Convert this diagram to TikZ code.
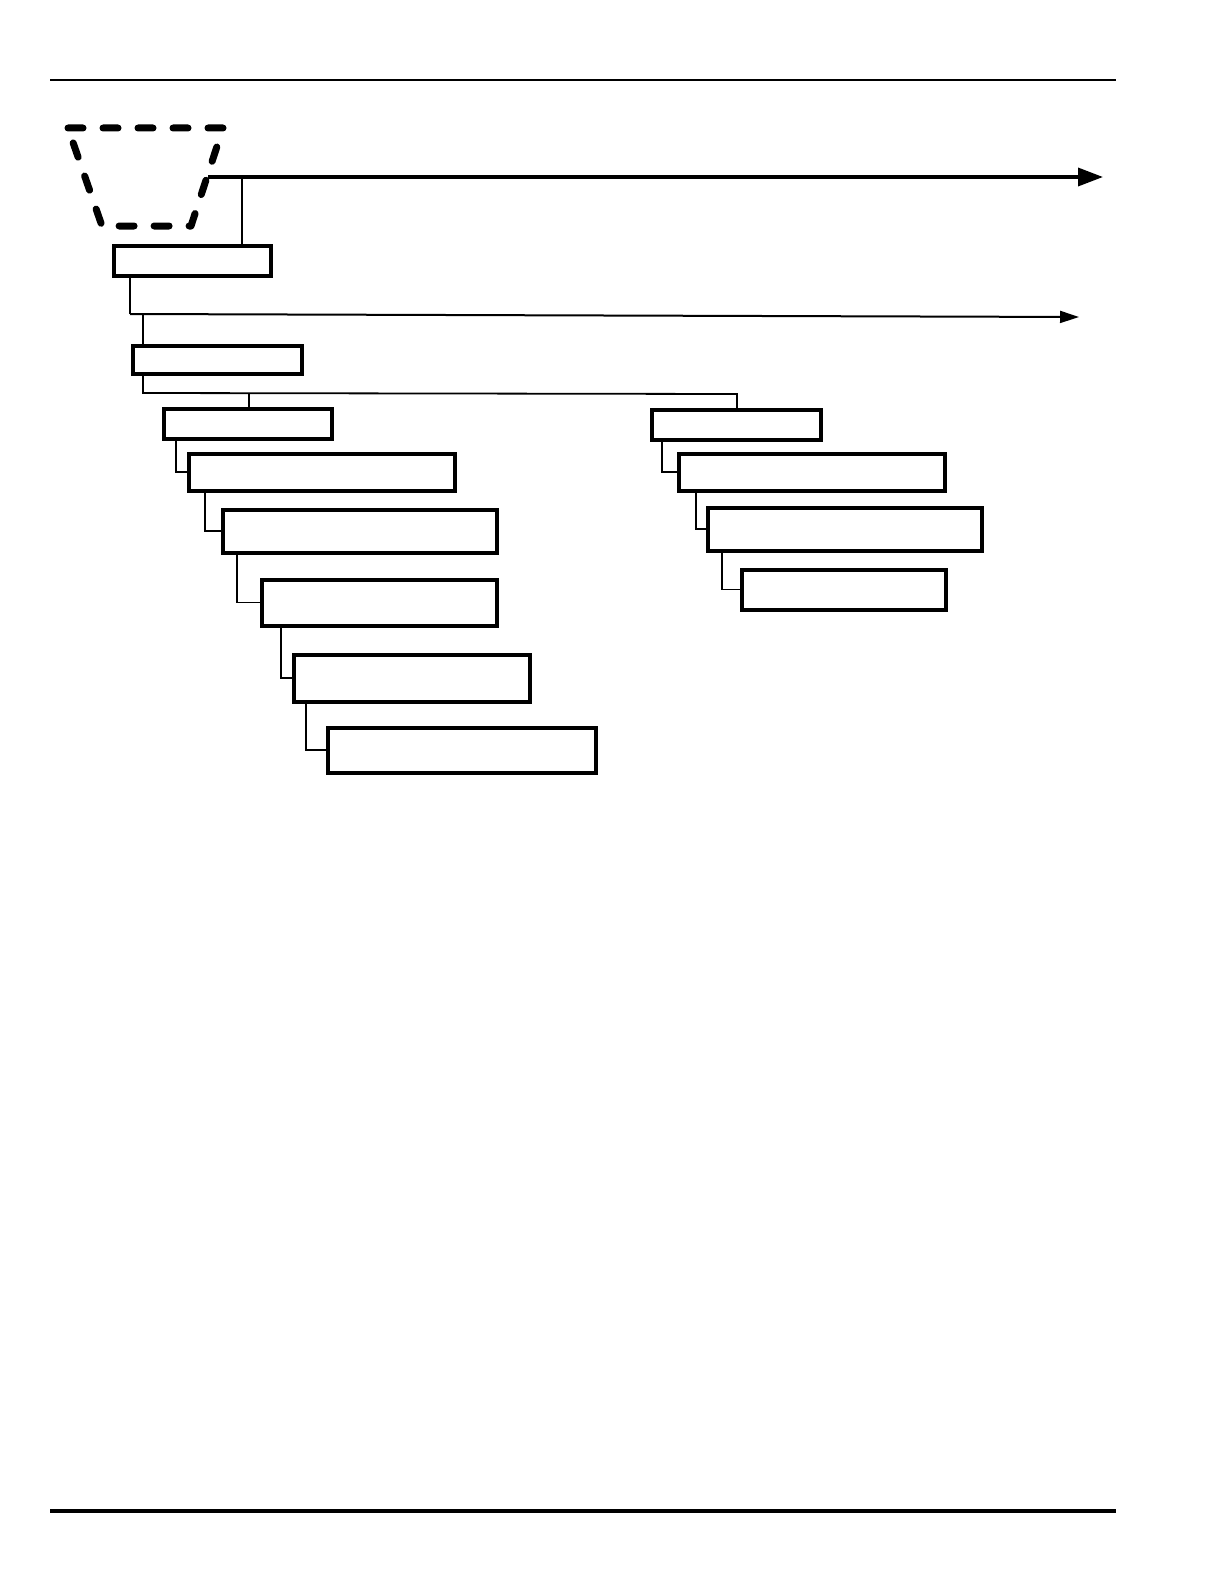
\documentclass[tikz,border=0pt]{standalone}
\usetikzlibrary{arrows.meta}
\begin{document}
\begin{tikzpicture}[x=1pt,y=-1pt,
  box/.style={draw, line width=4pt, rectangle, inner sep=0pt, outer sep=0pt, anchor=north west},
  conn/.style={line width=1.8pt},
  rulethin/.style={line width=2.6pt},
  rulethick/.style={line width=4pt},
  trap/.style={line width=7pt, line cap=round, line join=round, dash pattern=on 15pt off 20pt},
  bigarrow/.style={line width=3.5pt, -{Triangle[length=25pt,width=18pt]}},
  smallarrow/.style={line width=2pt, -{Triangle[length=19pt,width=12pt]}}]
\useasboundingbox (0,0) rectangle (1224,1584);
% page rules
\coordinate (t1) at (50,80); \coordinate (t2) at (1116,80);
\coordinate (b1) at (50,1511); \coordinate (b2) at (1116,1511);
\draw[rulethin] (t1) -- (t2);
\draw[rulethick] (b1) -- (b2);
% dashed trapezoid
\coordinate (tp1) at (68,128); \coordinate (tp2) at (223,128);
\coordinate (tp3) at (191,226); \coordinate (tp4) at (102,226);
\draw[trap] (tp1) -- (tp2) -- (tp3) -- (tp4) -- cycle;
% boxes
\node[box, minimum width=157pt, minimum height=30pt] (B1) at (114,245.5) {};
\node[box, minimum width=169pt, minimum height=28pt] (B2) at (133,345.5) {};
\node[box, minimum width=168pt, minimum height=30pt] (A) at (164,408.5) {};
\node[box, minimum width=266pt, minimum height=37pt] (B) at (189,453.5) {};
\node[box, minimum width=274pt, minimum height=43pt] (C) at (223,509.5) {};
\node[box, minimum width=235pt, minimum height=46pt] (D) at (262,579.5) {};
\node[box, minimum width=236pt, minimum height=47pt] (E) at (294,654.5) {};
\node[box, minimum width=268pt, minimum height=45pt] (F) at (328,727.5) {};
\node[box, minimum width=169pt, minimum height=30pt] (R1) at (652,409.5) {};
\node[box, minimum width=266pt, minimum height=37pt] (R2) at (679,453.5) {};
\node[box, minimum width=274pt, minimum height=43pt] (R3) at (708,507.5) {};
\node[box, minimum width=204pt, minimum height=40pt] (R4) at (742,569.5) {};
% top arrow
\coordinate (a1s) at (208,177); \coordinate (a1e) at (1103,177);
\draw[bigarrow] (a1s) -- (a1e);
\coordinate (a1j) at (242,177);
\draw[conn] (a1j) -- (a1j |- B1.north);
% second arrow
\coordinate (a2s) at (130,314); \coordinate (a2e) at (1079,317);
\draw[conn] (B1.south -| a2s) -- (a2s);
\draw[smallarrow] (a2s) -- (a2e);
\coordinate (a2j) at (143,314);
\draw[conn] (a2j) -- (a2j |- B2.north);
% split line
\coordinate (s1) at (143,393); \coordinate (s2) at (737,394);
\coordinate (sa) at (249,393);
\draw[conn] (B2.south -| s1) -- (s1) -- (s2) -- (s2 |- R1.north);
\draw[conn] (sa) -- (sa |- A.north);
% left cascade
\draw[conn] ([xshift=12pt]A.south west) |- (B.west);
\draw[conn] ([xshift=16pt]B.south west) |- (C.west);
\draw[conn] ([xshift=14pt]C.south west) |- (D.west);
\draw[conn] ([xshift=19pt]D.south west) |- (E.west);
\draw[conn] ([xshift=12pt]E.south west) |- (F.west);
% right cascade
\draw[conn] ([xshift=10pt]R1.south west) |- (R2.west);
\draw[conn] ([xshift=17pt]R2.south west) |- (R3.west);
\draw[conn] ([xshift=14pt]R3.south west) |- (R4.west);
\end{tikzpicture}
\end{document}
